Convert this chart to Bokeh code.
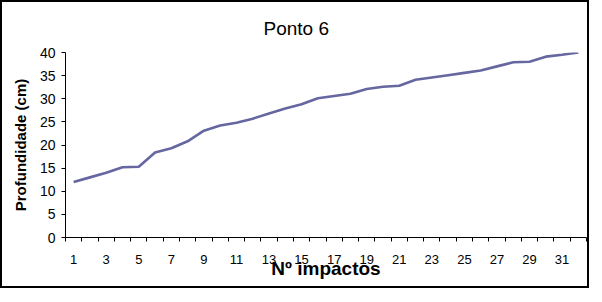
from bokeh.plotting import figure
from bokeh.models import Range1d, FixedTicker
from bokeh.embed import file_html
from bokeh.resources import INLINE

# ---- data ----
impactos = list(range(1, 33))
profundidade = [12, 13, 14, 15.2, 15.3, 18.4, 19.3, 20.8, 23.1, 24.2,
                24.8, 25.7, 26.8, 27.9, 28.8, 30.1, 30.6, 31.1, 32.1, 32.6,
                32.8, 34.1, 34.6, 35.1, 35.6, 36.1, 37.0, 37.9, 38.0, 39.1,
                39.5, 40.0]
x_tick_values = impactos[::2]                 # 1, 3, ..., 31
x_tick_labels = [str(v) for v in x_tick_values]
y_tick_values = [0, 5, 10, 15, 20, 25, 30, 35, 40]
title_text = "Ponto 6"
x_title = "Nº impactos"
y_title = "Profundidade (cm)"

FONT = "Liberation Sans"

p = figure(width=589, height=288, output_backend="svg", toolbar_location=None,
           x_range=Range1d(0.5, 32.5), y_range=Range1d(0, 40),
           min_border_left=63, min_border_right=5, min_border_top=49, min_border_bottom=53)
p.styles = {"border": "2px solid black", "box-sizing": "border-box"}
p.background_fill_color = "white"
p.border_fill_color = "white"
p.outline_line_color = None
p.xgrid.visible = False
p.ygrid.visible = False

p.title.text = title_text
p.title.align = "left"
p.title.offset = 198
p.title.standoff = 27
p.title.text_font = FONT
p.title.text_font_size = "19px"
p.title.text_font_style = "normal"
p.title.text_color = "black"

p.line(impactos, profundidade, line_width=2.6, line_color="#6666A0")

# x axis: labels at odd categories, ticks between categories
xa = p.xaxis[0]
xa.ticker = FixedTicker(ticks=x_tick_values,
                        minor_ticks=[i + 0.5 for i in range(0, 33)])
xa.major_label_overrides = {v: s for v, s in zip(x_tick_values, x_tick_labels)}
xa.major_tick_out = 0
xa.major_tick_in = 0
xa.minor_tick_out = 4
xa.minor_tick_in = 0
xa.minor_tick_line_color = "black"
xa.axis_line_color = "black"
xa.major_label_text_font = FONT
xa.major_label_text_font_size = "13px"
xa.major_label_text_color = "black"
xa.major_label_standoff = 13
xa.axis_label = x_title
xa.axis_label_text_font = FONT
xa.axis_label_text_font_style = "bold"
xa.axis_label_text_font_size = "19px"
xa.axis_label_text_color = "black"
xa.axis_label_standoff = -9

ya = p.yaxis[0]
ya.ticker = FixedTicker(ticks=y_tick_values, minor_ticks=[])
ya.major_tick_out = 4
ya.major_tick_in = 0
ya.minor_tick_out = 0
ya.minor_tick_in = 0
ya.axis_line_color = "black"
ya.major_tick_line_color = "black"
ya.major_label_text_font = FONT
ya.major_label_text_font_size = "14px"
ya.major_label_text_color = "black"
ya.major_label_standoff = 6
ya.axis_label = y_title
ya.axis_label_text_font = FONT
ya.axis_label_text_font_style = "bold"
ya.axis_label_text_font_size = "15px"
ya.axis_label_text_color = "black"
ya.axis_label_standoff = 8

open("out.html", "w").write(file_html(p, INLINE))
